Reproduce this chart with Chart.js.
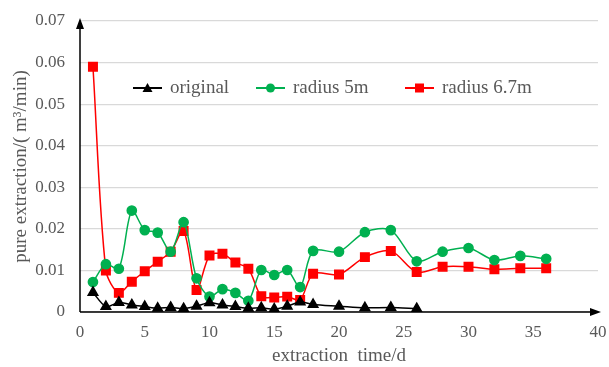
<!DOCTYPE html>
<html>
<head>
<meta charset="utf-8">
<script src="https://cdn.jsdelivr.net/npm/chart.js@4"></script>
<style>
  html, body { margin: 0; padding: 0; background: #fff; }
  #wrap { width: 609px; height: 367px; }
</style>
</head>
<body>
<div id="wrap"><canvas id="c" width="609" height="367"></canvas></div>
<script>
// ── data ──
const origDays = [1, 2, 3, 4, 5, 6, 7, 8, 9, 10, 11, 12, 13, 14, 15, 16, 17, 18, 20, 22, 24, 26];
const origVals = [0.0047, 0.0013, 0.0023, 0.0017, 0.0013, 0.0009, 0.0011, 0.0008, 0.0014, 0.0022, 0.0017, 0.0013,
  0.0009, 0.0010, 0.0007, 0.0014, 0.0024, 0.0018, 0.0014, 0.0010, 0.0011, 0.0008];

const radDays = [1, 2, 3, 4, 5, 6, 7, 8, 9, 10, 11, 12, 13, 14, 15, 16, 17, 18, 20, 22, 24, 26, 28, 30, 32, 34, 36];
const r5Vals = [0.0072, 0.0115, 0.0104, 0.0244, 0.0197, 0.0191, 0.0145, 0.0216, 0.0081, 0.0037, 0.0055, 0.0046,
  0.0027, 0.0101, 0.0089, 0.0101, 0.0060, 0.0147, 0.0145, 0.0192, 0.0197, 0.0122, 0.0145, 0.0154, 0.0125, 0.0135, 0.0128];
const r67Vals = [0.0590, 0.0100, 0.0046, 0.0073, 0.0098, 0.0121, 0.0145, 0.0195, 0.0053, 0.0136, 0.0140, 0.0119,
  0.0104, 0.0038, 0.0035, 0.0037, 0.0029, 0.0092, 0.0090, 0.0132, 0.0147, 0.0096, 0.0109, 0.0109, 0.0103, 0.0105, 0.0105];

const seriesNames = ['original', 'radius 5m', 'radius 6.7m'];
const xTicks = [0, 5, 10, 15, 20, 25, 30, 35, 40];
const yTicks = [0, 0.01, 0.02, 0.03, 0.04, 0.05, 0.06, 0.07];

const pts = (xs, ys) => xs.map((x, i) => ({ x, y: ys[i] }));
const FONT = '"Liberation Serif", "DejaVu Serif", serif';
const GREY = '#595959';

// axis lines with arrow heads (Excel style)
const axisArrows = {
  id: 'axisArrows',
  afterDatasetsDraw(chart) {
    const { ctx, chartArea: a } = chart;
    ctx.save();
    ctx.strokeStyle = '#000'; ctx.fillStyle = '#000'; ctx.lineWidth = 1.5;
    ctx.beginPath();
    ctx.moveTo(a.left, a.bottom); ctx.lineTo(a.left, a.top + 4);
    ctx.moveTo(a.left, a.bottom); ctx.lineTo(a.right - 4, a.bottom);
    ctx.stroke();
    ctx.beginPath();
    ctx.moveTo(a.left, a.top - 3); ctx.lineTo(a.left - 4, a.top + 8); ctx.lineTo(a.left + 4, a.top + 8); ctx.closePath();
    ctx.moveTo(a.right + 3, a.bottom); ctx.lineTo(a.right - 8, a.bottom - 4); ctx.lineTo(a.right - 8, a.bottom + 4); ctx.closePath();
    ctx.fill();
    ctx.restore();
  }
};

// legend drawn inside the plot area
const innerLegend = {
  id: 'innerLegend',
  afterDraw(chart) {
    const { ctx } = chart;
    const spots = [133, 256, 405];
    const y = 88;
    ctx.save();
    ctx.font = '19px ' + FONT;
    ctx.textBaseline = 'middle';
    chart.data.datasets.forEach((ds, i) => {
      const x0 = spots[i];
      ctx.strokeStyle = ds.borderColor; ctx.lineWidth = 2;
      ctx.beginPath(); ctx.moveTo(x0, y); ctx.lineTo(x0 + 29, y); ctx.stroke();
      ctx.fillStyle = ds.pointBackgroundColor;
      const cx = x0 + 14.5;
      if (ds.pointStyle === 'triangle') {
        ctx.beginPath(); ctx.moveTo(cx, y - 5); ctx.lineTo(cx - 5, y + 4); ctx.lineTo(cx + 5, y + 4); ctx.closePath(); ctx.fill();
      } else if (ds.pointStyle === 'circle') {
        ctx.beginPath(); ctx.arc(cx, y, 4.5, 0, Math.PI * 2); ctx.fill();
      } else {
        ctx.fillRect(cx - 4.5, y - 4.5, 9, 9);
      }
      ctx.fillStyle = GREY;
      ctx.fillText(ds.label, x0 + 37, y);
    });
    ctx.restore();
  }
};

new Chart(document.getElementById('c'), {
  type: 'line',
  data: {
    datasets: [
      { label: seriesNames[0], data: pts(origDays, origVals), borderColor: '#000', pointBackgroundColor: '#000',
        pointBorderColor: '#000', pointStyle: 'triangle', pointRadius: 5.5, borderWidth: 1.5, tension: 0.3 },
      { label: seriesNames[1], data: pts(radDays, r5Vals), borderColor: '#00b050', pointBackgroundColor: '#00b050',
        pointBorderColor: '#00b050', pointStyle: 'circle', pointRadius: 4.6, borderWidth: 1.5, tension: 0.3 },
      { label: seriesNames[2], data: pts(radDays, r67Vals), borderColor: '#ff0000', pointBackgroundColor: '#ff0000',
        pointBorderColor: '#ff0000', pointStyle: 'rect', pointRadius: 6, borderWidth: 1.5, tension: 0.3 }
    ]
  },
  options: {
    responsive: false,
    animation: false,
    layout: { padding: { top: 21, right: 11, left: 10, bottom: 0 } },
    plugins: { legend: { display: false }, tooltip: { enabled: false } },
    scales: {
      x: {
        type: 'linear', min: 0, max: 40,
        afterBuildTicks: s => { s.ticks = xTicks.map(v => ({ value: v })); },
        grid: { display: false, drawTicks: false },
        border: { display: false },
        ticks: { color: GREY, font: { family: FONT, size: 17 }, padding: 10, maxRotation: 0 },
        title: { display: true, text: 'extraction  time/d', color: GREY, font: { family: FONT, size: 19 }, padding: { top: 2, bottom: 0 } },
        afterFit: s => { s.height = 55; s.paddingLeft = 0; s.paddingRight = 0; }
      },
      y: {
        min: 0, max: 0.07,
        afterBuildTicks: s => { s.ticks = yTicks.map(v => ({ value: v })); },
        grid: { color: '#d9d9d9', lineWidth: 1.2, drawTicks: false },
        border: { display: false },
        ticks: { color: GREY, font: { family: FONT, size: 17 }, padding: 15,
          callback: v => v === 0 ? '0' : v.toFixed(2) },
        title: { display: true, text: 'pure extraction/( m³/min)', color: GREY, font: { family: FONT, size: 19 }, padding: { top: 0, bottom: 0 } },
        afterFit: s => { s.width = 70; s.paddingTop = 0; s.paddingBottom = 0; }
      }
    }
  },
  plugins: [axisArrows, innerLegend]
});
</script>
</body>
</html>
